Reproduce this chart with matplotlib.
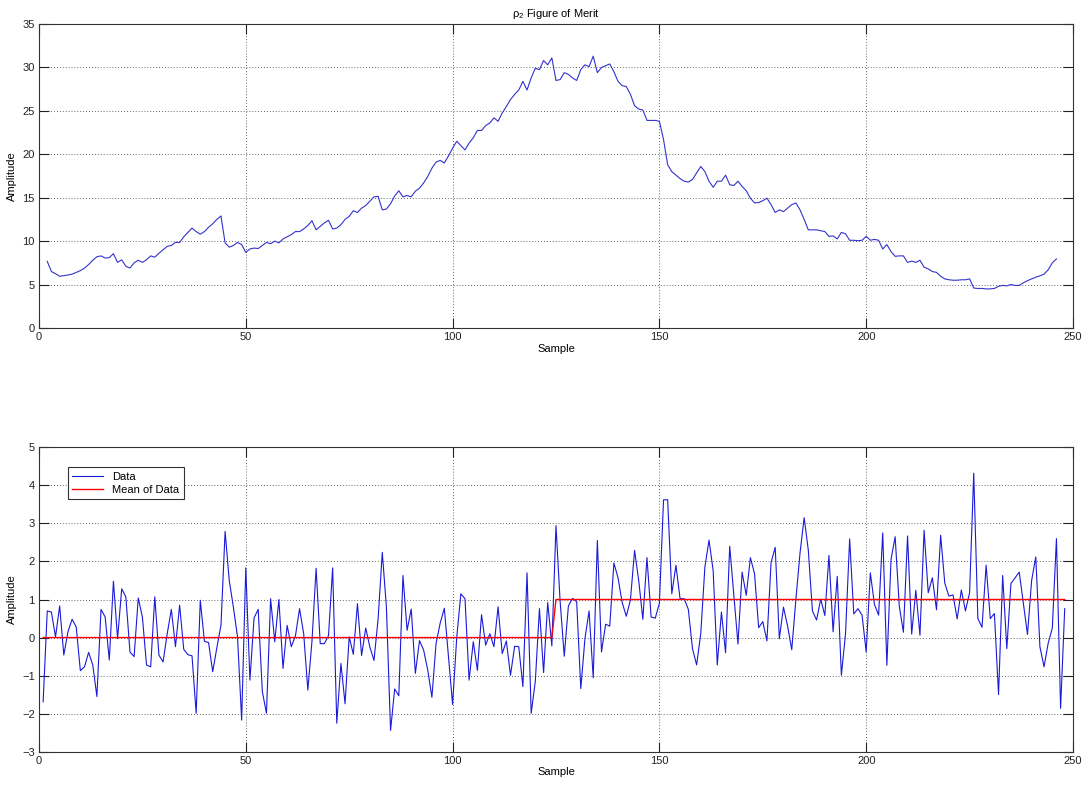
"""
Figure of merit trace and raw amplitude data with its segment means.
"""

import matplotlib
matplotlib.use("Agg")
import matplotlib.pyplot as plt
import numpy as np

# ── Data ──────────────────────────────────────────────────────
MERIT_START: int = 2
merit = [
    7.67, 6.5, 6.25, 5.95, 6.02, 6.1, 6.2, 6.4, 6.6, 6.9,
    7.3, 7.8, 8.2, 8.3, 8.05, 8.1, 8.55, 7.55, 7.85, 7.1,
    6.9, 7.5, 7.8, 7.55, 7.85, 8.3, 8.15, 8.6, 9.0, 9.4,
    9.5, 9.85, 9.85, 10.5, 11.0, 11.5, 11.1, 10.8, 11.1, 11.6,
    12.0, 12.5, 12.9, 9.8, 9.3, 9.5, 9.85, 9.6, 8.7, 9.1,
    9.2, 9.15, 9.5, 9.85, 9.7, 10.0, 9.8, 10.25, 10.5, 10.75,
    11.1, 11.1, 11.4, 11.8, 12.35, 11.3, 11.7, 12.1, 12.4, 11.4,
    11.5, 11.9, 12.5, 12.85, 13.5, 13.3, 13.8, 14.1, 14.6, 15.1,
    15.15, 13.6, 13.7, 14.3, 15.2, 15.8,
    15.1, 15.25, 15.1, 15.75, 16.1, 16.7, 17.45, 18.4, 19.1, 19.3,
    19.0, 19.8, 20.7, 21.5, 21.0, 20.5, 21.3, 21.9, 22.75, 22.75,
    23.3, 23.6, 24.2, 23.8, 24.75, 25.5, 26.3, 26.9, 27.4, 28.4,
    27.4, 28.8, 29.9, 29.75, 30.8, 30.3, 31.1, 28.5, 28.6, 29.4,
    29.2, 28.8, 28.5, 29.75, 30.3, 30.1, 31.3, 29.4, 30.0, 30.2,
    30.4, 29.5, 28.4, 27.9, 27.8, 26.9, 25.6, 25.2, 25.1, 23.9,
    23.9, 23.9, 23.8, 21.7, 18.8, 18.0, 17.6, 17.2, 16.9, 16.8,
    17.1, 17.85,
    18.6, 18.0, 16.9, 16.2, 16.9, 16.9, 17.6, 16.5, 16.4, 16.9,
    16.3, 15.8, 14.95, 14.4, 14.45, 14.65, 14.95, 14.2, 13.3, 13.6,
    13.4, 13.8, 14.2, 14.4, 13.6, 12.5, 11.3, 11.3, 11.3, 11.2,
    11.1, 10.55, 10.6, 10.25, 11.0, 10.85, 10.1, 10.1, 10.05, 10.1,
    10.55, 10.1, 10.2, 10.1, 9.1, 9.6, 8.8, 8.25, 8.3, 8.3,
    7.55, 7.7, 7.55, 7.8, 7.0, 6.8, 6.5, 6.4, 5.95, 5.65,
    5.55, 5.5, 5.5, 5.55, 5.55, 5.65, 4.6, 4.55, 4.55, 4.5,
    4.5, 4.55, 4.8, 4.9, 4.85, 5.0, 4.9, 4.9, 5.2, 5.45,
    5.65, 5.85, 6.0, 6.2, 6.7, 7.5, 7.95,
]

amplitude = [
    -1.69, 0.7, 0.67, 0.02, 0.83, -0.46, 0.15, 0.48, 0.28, -0.87,
    -0.77, -0.39, -0.72, -1.55, 0.74, 0.54, -0.59, 1.48, -0.03, 1.28,
    1.07, -0.38, -0.5, 1.04, 0.54, -0.72, -0.77, 1.07, -0.46, -0.64,
    0.1, 0.74, -0.24, 0.85, -0.31, -0.45, -0.48, -1.99, 0.98, -0.1,
    -0.13, -0.9, -0.27, 0.32, 2.79, 1.5, 0.8, 0.02, -2.17, 1.83,
    -1.12, 0.52, 0.74, -1.42, -1.99, 1.02, -0.11, 1.0, -0.81, 0.32,
    -0.24, 0.04, 0.76, 0.1, -1.38, -0.1, 1.82, -0.16, -0.16, 0.05,
    1.83, -2.25, -0.68, -1.74, 0.02, -0.44, 0.89, -0.47, 0.25, -0.25,
    -0.6, 0.5, 2.24, 0.8, -2.44, -1.35, -1.53, 1.63, 0.19, 0.75,
    -0.94, -0.08, -0.33, -0.86, -1.57, -0.16, 0.38, 0.77, -0.5, -1.76,
    0.0, 1.15, 1.02, -1.12, -0.11, -0.86, 0.6, -0.2, 0.1, -0.24,
    0.81, -0.42, -0.09, -0.99, -0.23, -0.24, -1.29, 1.7, -1.99, -1.15,
    0.76, -0.92, 0.92, -0.22, 2.94, 0.95, -0.49, 0.83, 1.03, 0.94,
    -1.34, -0.03, 0.7, -1.06, 2.55, -0.38, 0.35, 0.3, 1.96, 1.57,
    0.92, 0.56, 0.99, 2.29, 1.5, 0.48, 2.1, 0.54, 0.51, 0.9,
    3.62, 3.62, 1.15, 1.9, 1.02, 1.02, 0.74, -0.29, -0.72, 0.1,
    1.85, 2.56, 1.76, -0.72, 0.67, -0.4, 2.4, 1.1, -0.17, 1.72,
    1.11, 2.1, 1.68, 0.26, 0.42, -0.09, 1.97, 2.37, -0.03, 0.8,
    0.3, -0.32, 1.0, 2.22, 3.15, 2.3, 0.7, 0.46, 1.01, 0.58,
    2.16, 0.15, 1.61, -0.99, 0.1, 2.59, 0.62, 0.76, 0.59, -0.38,
    1.7, 0.87, 0.59, 2.75, -0.73, 2.05, 2.65, 0.83, 0.14, 2.67,
    0.09, 1.24, 0.06, 2.82, 1.18, 1.57, 0.73, 2.69, 1.43, 1.09,
    1.12, 0.49, 1.25, 0.7, 1.18, 4.32, 0.5, 0.27, 1.9, 0.5,
    0.63, -1.5, 1.63, -0.29, 1.42, 1.57, 1.72, 0.9, 0.08, 1.5,
    2.12, -0.24, -0.77, -0.15, 0.25, 2.6, -1.86, 0.76,
]

# Mean of each half of the record
segment_means = [0.0, 1.0]
segment_split = 124          # last sample of the first segment
# ──────────────────────────────────────────────────────────────

merit_x = np.arange(MERIT_START, MERIT_START + len(merit))
amp_x = np.arange(1, len(amplitude) + 1)
mean_y = np.where(amp_x <= segment_split, segment_means[0], segment_means[1])

plt.rcParams["font.family"] = ["Liberation Sans", "DejaVu Sans"]
plt.rcParams["font.size"] = 8
plt.rcParams["mathtext.fontset"] = "custom"
plt.rcParams["mathtext.rm"] = "Liberation Sans"
plt.rcParams["mathtext.it"] = "Liberation Sans:italic"


def matlab_axes(ax, ylim, yticks):
    """Boxed axes with inward ticks on all four sides and dotted grid."""
    ax.set_xlim(0, 250)
    ax.set_ylim(*ylim)
    ax.set_xticks(np.arange(0, 251, 50))
    ax.set_yticks(yticks)
    ax.tick_params(direction="in", length=7, width=0.8, top=True, right=True,
                   labelsize=8, colors="#222222", pad=3)
    ax.grid(True, color="#333333", linestyle=(0, (1, 2.5)), linewidth=0.6)
    for spine in ax.spines.values():
        spine.set_color("#333333")
        spine.set_linewidth(0.8)
    ax.set_xlabel("Sample", fontsize=8, labelpad=1)
    ax.set_ylabel("Amplitude", fontsize=8, labelpad=4)


fig = plt.figure(figsize=(10.89, 7.85), dpi=100)
ax_top = fig.add_axes([0.0358, 0.5822, 0.9495, 0.3872])
ax_bot = fig.add_axes([0.0358, 0.0424, 0.9495, 0.3878])

# --- Top: figure of merit ---
ax_top.plot(merit_x, merit, color=(0.2, 0.2, 0.8), linewidth=0.8)
matlab_axes(ax_top, (0, 35), np.arange(0, 36, 5))
ax_top.set_title(r"$\mathregular{\rho_2}$ Figure of Merit", fontsize=8, pad=5)

# --- Bottom: data and segment means ---
ax_bot.plot(amp_x, amplitude, color=(0.1, 0.1, 0.85), linewidth=0.8, label="Data")
ax_bot.plot(amp_x, mean_y, color=(1.0, 0.0, 0.0), linewidth=1.0, label="Mean of Data",
            zorder=3)
matlab_axes(ax_bot, (-3, 5), np.arange(-3, 6, 1))

leg = ax_bot.legend(loc="upper left", bbox_to_anchor=(0.028, 0.935), borderaxespad=0,
                    fancybox=False, framealpha=1, edgecolor="#333333",
                    handlelength=2.8, fontsize=8, borderpad=0.4, labelspacing=0.3)
leg.get_frame().set_linewidth(0.8)

fig.savefig("out.png", dpi=100)
